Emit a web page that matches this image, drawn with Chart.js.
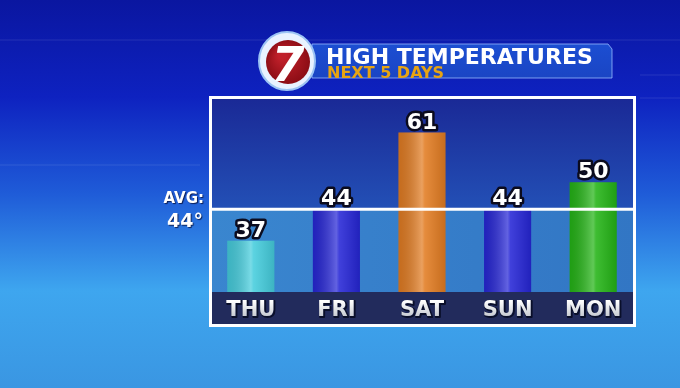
<!DOCTYPE html>
<html>
<head>
<meta charset="utf-8">
<script src="https://cdn.jsdelivr.net/npm/chart.js@4"></script>
<style>
  html, body { margin: 0; padding: 0; overflow: hidden; background: #3c9ae6; }
  canvas { display: block; }
</style>
</head>
<body>
<canvas id="highs" width="680" height="388"></canvas>
<script>
// --- data ---
const days = ['THU', 'FRI', 'SAT', 'SUN', 'MON'];
const highs = [37, 44, 61, 44, 50];
const avgHigh = 44;
const barColors = ['#45cddd', '#2626d6', '#e27c22', '#2626d6', '#24b416'];
const titleText = 'HIGH TEMPERATURES';
const subtitleText = 'NEXT 5 DAYS';

const FONT = "'DejaVu Sans', sans-serif";

function outlinedText(ctx, txt, x, y, size, stroke) {
    ctx.font = `bold ${size}px ${FONT}`;
    ctx.lineJoin = 'round';
    ctx.lineWidth = stroke;
    ctx.strokeStyle = '#0b0b1e';
    ctx.strokeText(txt, x, y);
    ctx.fillStyle = '#ffffff';
    ctx.fillText(txt, x, y);
}

const tvGraphic = {
    id: 'tvGraphic',
    beforeDraw(chart) {
        const { ctx, width, height, chartArea: { left, right, top, bottom }, scales: { y } } = chart;
        ctx.save();

        // 1. backdrop
        const bg = ctx.createLinearGradient(0, 0, 0, height);
        bg.addColorStop(0, '#0a16a0');
        bg.addColorStop(0.25, '#0e22c0');
        bg.addColorStop(0.5, '#1f5cd8');
        bg.addColorStop(0.75, '#3ea6ef');
        bg.addColorStop(1, '#3a96e2');
        ctx.fillStyle = bg;
        ctx.fillRect(0, 0, width, height);

        // faint background streaks
        ctx.strokeStyle = 'rgba(255,255,255,0.05)';
        ctx.lineWidth = 2;
        ctx.beginPath();
        ctx.moveTo(0, 40); ctx.lineTo(680, 40);
        ctx.moveTo(0, 165); ctx.lineTo(200, 165);
        ctx.moveTo(640, 75); ctx.lineTo(680, 75);
        ctx.moveTo(640, 98); ctx.lineTo(680, 98);
        ctx.stroke();

        // 2. title banner
        const bx = 312, by = 44, bw = 300, bh = 34;
        const bannerGrad = ctx.createLinearGradient(0, by, 0, by + bh);
        bannerGrad.addColorStop(0, '#1c4ed2');
        bannerGrad.addColorStop(1, '#1a45c4');
        ctx.fillStyle = bannerGrad;
        ctx.beginPath();
        ctx.moveTo(bx, by);
        ctx.lineTo(bx + bw - 4, by);
        ctx.lineTo(bx + bw, by + 5);
        ctx.lineTo(bx + bw, by + bh);
        ctx.lineTo(bx, by + bh);
        ctx.closePath();
        ctx.fill();
        ctx.strokeStyle = 'rgba(150,185,255,0.8)';
        ctx.lineWidth = 1;
        ctx.stroke();

        ctx.textAlign = 'left';
        ctx.textBaseline = 'alphabetic';
        ctx.fillStyle = '#ffffff';
        ctx.font = `bold 22px ${FONT}`;
        ctx.fillText(titleText, 326, 64);
        ctx.fillStyle = '#e8a412';
        ctx.font = `bold 16px ${FONT}`;
        ctx.fillText(subtitleText, 327, 78);

        // logo
        ctx.fillStyle = '#e8f2ff';
        ctx.beginPath();
        ctx.ellipse(287, 61, 28, 29, 0, 0, Math.PI * 2);
        ctx.fill();
        ctx.strokeStyle = '#9cc4f4';
        ctx.lineWidth = 2;
        ctx.stroke();
        const red = ctx.createRadialGradient(282, 55, 4, 288, 62, 23);
        red.addColorStop(0, '#c0202a');
        red.addColorStop(1, '#8a0c14');
        ctx.fillStyle = red;
        ctx.beginPath();
        ctx.arc(288, 62, 22, 0, Math.PI * 2);
        ctx.fill();
        ctx.fillStyle = '#ffffff';
        ctx.font = `bold italic 48px ${FONT}`;
        ctx.textAlign = 'center';
        ctx.fillText('7', 288, 81);

        // 3. AVG label
        ctx.textAlign = 'right';
        ctx.shadowColor = 'rgba(0,0,30,0.7)';
        ctx.shadowOffsetX = 1;
        ctx.shadowOffsetY = 1;
        ctx.shadowBlur = 1;
        ctx.fillStyle = '#ffffff';
        ctx.font = `bold 15px ${FONT}`;
        ctx.fillText('AVG:', 204, 203);
        ctx.font = `bold 19px ${FONT}`;
        ctx.fillText(avgHigh + '°', 203, 227);
        ctx.shadowColor = 'transparent';

        // 4. chart panel
        const avgY = y.getPixelForValue(avgHigh);
        const fl = left + 1, fr = right, ft = top - 3, fb = bottom + 35;
        const upper = ctx.createLinearGradient(0, top, 0, avgY);
        upper.addColorStop(0, '#1a2996');
        upper.addColorStop(1, '#2350b6');
        ctx.fillStyle = upper;
        ctx.fillRect(fl, top, fr - fl, avgY - top);
        const lower = ctx.createLinearGradient(fl, 0, fr, 0);
        lower.addColorStop(0, '#3a86cf');
        lower.addColorStop(1, '#3276c4');
        ctx.fillStyle = lower;
        ctx.fillRect(fl, avgY, fr - fl, bottom - avgY);
        ctx.fillStyle = '#222b5c';
        ctx.fillRect(fl, bottom, fr - fl, fb - bottom);

        ctx.strokeStyle = '#ffffff';
        ctx.lineWidth = 3;
        ctx.strokeRect(fl + 1.5, ft + 1.5, fr - fl - 3, fb - ft - 3);
        ctx.restore();
    },
    afterDatasetsDraw(chart) {
        const { ctx, chartArea: { left, right, bottom }, scales: { y } } = chart;
        const meta = chart.getDatasetMeta(0);
        ctx.save();

        // bar shine
        meta.data.forEach((bar) => {
            const x0 = bar.x - bar.width / 2, x1 = bar.x + bar.width / 2;
            const g = ctx.createLinearGradient(x0, 0, x1, 0);
            g.addColorStop(0, 'rgba(0,0,0,0.12)');
            g.addColorStop(0.5, 'rgba(255,255,255,0.28)');
            g.addColorStop(0.56, 'rgba(255,255,255,0.12)');
            g.addColorStop(1, 'rgba(0,0,0,0.12)');
            ctx.fillStyle = g;
            ctx.fillRect(x0, bar.y, bar.width, Math.min(bar.base, bottom) - bar.y);
        });

        // average line
        const avgY = y.getPixelForValue(avgHigh);
        ctx.strokeStyle = '#ffffff';
        ctx.lineWidth = 3;
        ctx.beginPath();
        ctx.moveTo(left + 1, avgY);
        ctx.lineTo(right, avgY);
        ctx.stroke();

        // value labels
        ctx.textAlign = 'center';
        ctx.textBaseline = 'alphabetic';
        meta.data.forEach((bar, i) => {
            outlinedText(ctx, String(highs[i]), bar.x, bar.y - 4, 22, 5);
        });

        // day labels
        meta.data.forEach((bar, i) => {
            ctx.font = `bold 21px ${FONT}`;
            ctx.lineJoin = 'round';
            ctx.lineWidth = 2;
            ctx.strokeStyle = '#0a0f2a';
            ctx.strokeText(days[i], bar.x + 1, bottom + 25);
            const g = ctx.createLinearGradient(0, bottom + 9, 0, bottom + 25);
            g.addColorStop(0, '#ffffff');
            g.addColorStop(1, '#c4c8d0');
            ctx.fillStyle = g;
            ctx.fillText(days[i], bar.x, bottom + 24);
        });
        ctx.restore();
    }
};

new Chart(document.getElementById('highs').getContext('2d'), {
    type: 'bar',
    data: {
        labels: days,
        datasets: [{
            data: highs,
            backgroundColor: barColors,
            borderWidth: 0,
            barPercentage: 0.55,
            categoryPercentage: 1
        }]
    },
    options: {
        responsive: false,
        animation: false,
        devicePixelRatio: 1,
        layout: { padding: { left: 208, right: 44, top: 99, bottom: 96 } },
        scales: {
            x: { display: false },
            y: { display: false, min: 25.65, max: 68.45 }
        },
        plugins: {
            legend: { display: false },
            tooltip: { enabled: false }
        }
    },
    plugins: [tvGraphic]
});
</script>
</body>
</html>
